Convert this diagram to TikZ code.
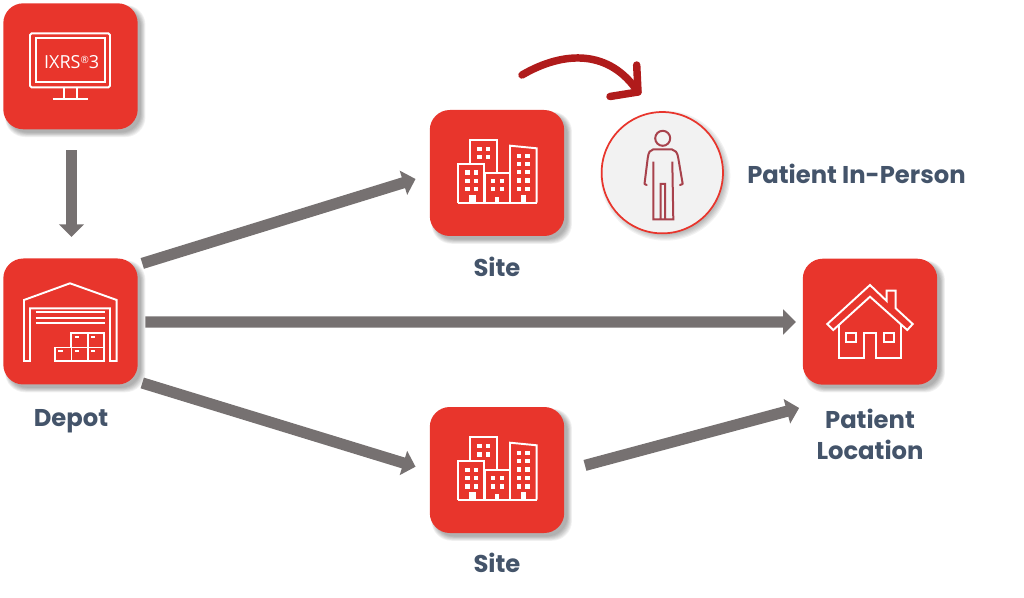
\documentclass[tikz,border=0pt]{standalone}
\usepackage{fontspec}
\setmainfont{Poppins}
\newfontfamily\ixfont{Open Sans}
\usetikzlibrary{arrows.meta,backgrounds,calc}
\definecolor{boxred}{HTML}{E8352C}
\definecolor{darkred}{HTML}{B01B1B}
\definecolor{flowgray}{HTML}{767171}
\definecolor{labelblue}{HTML}{44546A}
\definecolor{personcol}{HTML}{A8424C}
\definecolor{circlefill}{HTML}{F2F2F2}
\tikzset{
  tile/.style={rectangle,fill=boxred,draw=none,minimum width=100.8pt,minimum height=94.5pt,inner sep=0pt,rounded corners=15pt},
  lab/.style={font=\bfseries\fontsize{18.2pt}{23.5pt}\selectfont,text=labelblue,align=center,inner sep=0pt},
  flow/.style={draw=flowgray,line width=8.4pt,-{Triangle[length=9.5pt,width=18.5pt]}},
  icon/.style={draw=white,line width=1.45pt,line join=miter},
  win/.style={fill=white,draw=none},
}
\newcommand{\softshadow}[1]{%
  \begin{scope}[on background layer]
    \foreach \g in {0,1,2,3,4,5,6}{
      \fill[black,opacity=0.05,rounded corners=15pt]
        ([shift={(\g*0.4+2,\g*0.4+2)}]#1.north west) rectangle ([shift={(7.5-\g*0.75,7.5-\g*0.75)}]#1.south east);
    }
  \end{scope}}
\newcommand{\buildings}[1]{%
  \begin{scope}[shift={(0,#1)}]
    \draw[icon] (470,164)--(470,140)--(496.7,140)--(496.7,172.7);
    \draw[icon] (458.3,202.7)--(458.3,164.3)--(484,164.3)--(484,202.7);
    \draw[icon] (485,202.7)--(485,172.7)--(510,172.7)--(510,202.7);
    \draw[icon] (510,172.7)--(510,145.7)--(536.7,148.3)--(536.7,202.7);
    \draw[icon] (458.3,202.7)--(536.7,202.7);
    \fill[win] (469,195) rectangle (475.5,203);
    \fill[win] (494.5,197) rectangle (499,203);
    \fill[win] (520.7,195) rectangle (525.5,203);
    \foreach \x/\y in {479.3/149,487.7/149,479.3/157.3,487.7/157.3,
      467.3/172.7,476/172.7,467.3/181,476/181,467.3/189.3,476/189.3,
      492.7/181,501.7/181,492.7/189.3,501.7/189.3,
      518.7/156,527.3/156,518.7/164,527.3/164,518.7/172.3,527.3/172.3,518.7/180.7,527.3/180.7,518.7/189.3,527.3/189.3}
      \fill[win] (\x-2.2,\y-2.2) rectangle (\x+2.2,\y+2.2);
  \end{scope}}
\begin{document}
\begin{tikzpicture}[x=0.75pt,y=-0.75pt]
\useasboundingbox (0,0) rectangle (1024,598);
% tiles
\node[tile] (ixrs) at (70.5,66.3) {};
\node[tile] (depot) at (70.5,321.5) {};
\node[tile] (site1) at (497,173) {};
\node[tile] (site2) at (497,470) {};
\node[tile] (home) at (870,321.7) {};
\softshadow{ixrs}\softshadow{depot}\softshadow{site1}\softshadow{site2}\softshadow{home}
% patient circle
\node[circle,fill=circlefill,draw=boxred,line width=1.3pt,minimum size=91pt,inner sep=0pt] (patient) at (662.3,172.7) {};
\begin{scope}[on background layer]
  \foreach \g in {0,...,5}
    \fill[black,opacity=0.05] ($(patient)+(3,3)$) circle ({65-\g*1.2});
\end{scope}
% labels
\node[lab] (ldepot) at (71,421) {Depot};
\node[lab] (lsite1) at (497,267) {Site};
\node[lab] (lsite2) at (497,563) {Site};
\node[lab] (lhome) at (870,434.5) {Patient\\Location};
\node[lab,anchor=west] (lperson) at (747,174) {Patient In-Person};
% flows
\draw[flow] ([shift={(1,20.7)}]ixrs.south) -- ([shift={(1,-21.3)}]depot.north);
\draw[flow] ([shift={(4.3,5.2)}]depot.north east) -- ([shift={(-14,6)}]site1.west);
\draw[flow] ([shift={(7.3,0.5)}]depot.east) -- ([shift={(-6.7,0.3)}]home.west);
\draw[flow] ([shift={(4.3,-1.8)}]depot.south east) -- ([shift={(-14,-3.3)}]site2.west);
\draw[flow] ([shift={(20.5,-4.6)}]site2.east) -- ([shift={(-3.4,23)}]home.south west);
% red curved arrow
\coordinate (cs) at (522,75);
\coordinate (ce) at (638,92);
\draw[darkred,line width=5.6pt,line cap=round] (cs) .. controls (565,50) and (610,50) .. (ce);
\draw[darkred,line width=5.6pt,line cap=round,line join=round] (636.7,65) -- (ce) -- (610,96.5);
% monitor
\draw[icon,rounded corners=1.2pt] (30,33.3) rectangle (110,87.3);
\draw[icon] (35.7,38.3) rectangle (105,81.7);
\draw[icon] (64.3,87.3)--(64.3,99) (76.7,87.3)--(76.7,99) (52.7,99)--(88.3,99);
\node[text=white,font=\ixfont\fontsize{13.5pt}{13.5pt}\selectfont,inner sep=0pt] (ixtext) at (71.7,61.7) {IXRS\raisebox{3.5pt}{\fontsize{7.5pt}{7.5pt}\selectfont ®}3};
% depot icon
\draw[icon] (24,361)--(24,300)--(70,283.3)--(116.7,300)--(116.7,361)--(110,361)--(110,308.3)--(30,308.3)--(30,361)--cycle;
\draw[icon] (35.7,312.3)--(105,312.3) (35.7,317.7)--(105,317.7) (35.7,323.3)--(105,323.3);
\draw[icon] (71,347.5)--(71,333.3)--(104.3,333.3)--(104.3,361)--(55,361)--(55,347.5)--(104.3,347.5);
\draw[icon] (71.5,347.5)--(71.5,361) (88,333.3)--(88,361);
\foreach \x/\y in {77/337.3,93/337.3,60.5/351,77/351,93/351}
  \draw[icon] (\x-2.2,\y)--(\x+2.2,\y);
% buildings
\buildings{0}
\buildings{297}
% house
\draw[icon] (827.3,324)--(870,285)--(886.7,301)--(886.7,290.7)--(895.7,290.7)--(895.7,308.3)--(912.7,324)--(907.3,330)--(870,296.7)--(833.3,330)--cycle;
\draw[icon] (839.3,325)--(839.3,358.3)--(864,358.3)--(864,333.3)--(876,333.3)--(876,358.3)--(900.7,358.3)--(900.7,325);
\draw[icon] (846,333.3) rectangle (856,342.3);
\draw[icon] (884,333.3) rectangle (894,342.3);
% person
\draw[personcol,line width=1.5pt] (662.7,138.3) circle (7.5);
\draw[personcol,line width=1.5pt,line join=round,line cap=round]
  (646.7,185)--(644.5,184)--(647.7,158.3) .. controls (648.5,152) and (650,150) .. (653.3,149.3)--(671.7,149.3) .. controls (675,150) and (677.5,152) .. (678.3,158.3)--(682.7,184)--(680,185);
\draw[personcol,line width=1.5pt,line join=miter]
  (653.3,161.7)--(653.3,219.3)--(673.3,219.3)--(672.3,161.7)
  (660.7,219.3)--(660.7,184)--(665,184)--(665,219.3);
\end{tikzpicture}
\end{document}
